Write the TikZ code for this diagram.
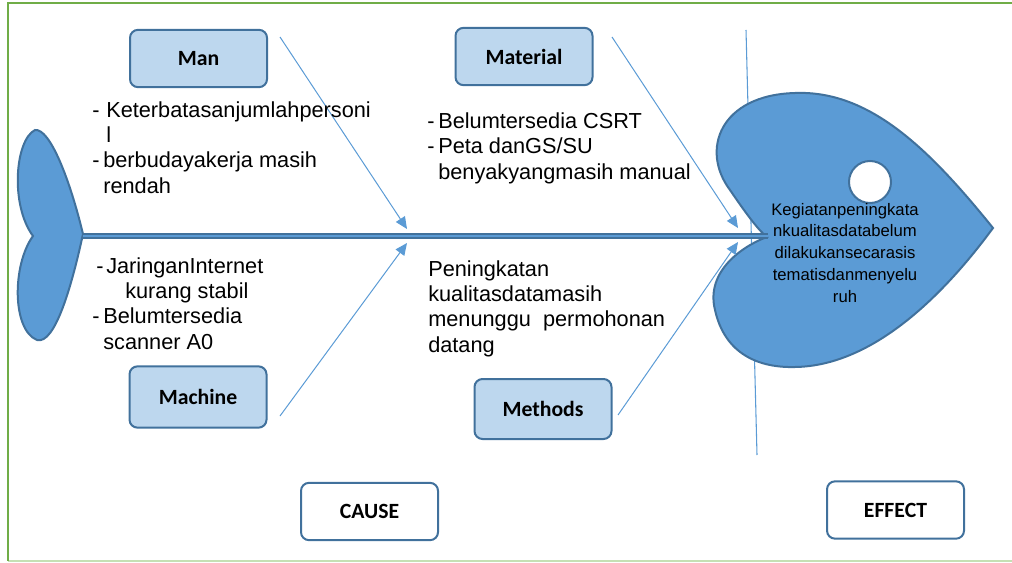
\documentclass[tikz,border=0pt]{standalone}
\usepackage{fontspec}
\setmainfont{Liberation Sans}
\newfontfamily\boxfont{Carlito}
\usetikzlibrary{arrows.meta}
\definecolor{FishClr}{HTML}{5B9BD5}
\definecolor{EdgeClr}{HTML}{41719C}
\definecolor{BoxClr}{HTML}{BDD7EE}
\definecolor{FrameClr}{HTML}{70AD47}
\definecolor{FrameLow}{HTML}{C5E0B4}
\newcommand{\itemdash}[1]{\makebox[#1][l]{-}}

\tikzset{
  catbox/.style={draw=EdgeClr, line width=1.5pt, rounded corners=6pt, fill=BoxClr,
    minimum width=102.75pt, minimum height=43pt, inner sep=0pt, text=black,
    font=\boxfont\bfseries\fontsize{16.3}{19}\selectfont},
  labbox/.style={catbox, fill=white},
  causetxt/.style={anchor=base west, align=left, inner sep=0pt, text=black,
    font=\fontsize{16.3}{19}\selectfont},
  headtxt/.style={anchor=base, align=center, inner sep=0pt, text=black,
    font=\fontsize{12.5}{16.3}\selectfont},
  bone/.style={draw=FishClr, line width=0.75pt, -{Triangle[length=9pt,width=8pt]}},
}

\begin{document}
\begin{tikzpicture}[x=0.75pt,y=-0.75pt]
\useasboundingbox (0,0) rectangle (1012,563);

% frame
\draw[FrameLow,line width=1.5pt] (8,561) -- (1012,561);
\draw[FrameClr,line width=2.2pt] (1012,3) -- (8,3) -- (8,561);

% line behind the head
\draw[FishClr,line width=0.8pt] (746,30) -- (757,455);

% tail
\draw[EdgeClr,fill=FishClr,line width=1.5pt] (35,130)
  .. controls (50,128) and (70,180) .. (83,234)
  .. controls (72,285) and (55,345) .. (37,340)
  .. controls (12,330) and (12,265) .. (33,236)
  .. controls (10,205) and (15,140) .. (35,130) -- cycle;

% head
\draw[EdgeClr,fill=FishClr,line width=1.5pt] (993,228)
  .. controls (930,150) and (870,90) .. (795,93)
  .. controls (720,95) and (700,150) .. (730,190)
  .. controls (745,212) and (758,230) .. (767,237)
  .. controls (745,245) and (705,270) .. (715,310)
  .. controls (725,355) and (760,368) .. (795,367)
  .. controls (870,366) and (940,300) .. (993,228) -- cycle;
\draw[EdgeClr,fill=white,line width=1.5pt] (870,182) circle[radius=15.75pt];

% spine
\coordinate (tail) at (83,236);
\coordinate (head) at (768,236);
\draw[EdgeClr,line width=4pt] (tail) -- (head);
\draw[FishClr,line width=1.8pt] (tail) -- (head);

% categories
\node[catbox] (man) at (198.5,58.5) {Man};
\node[catbox] (material) at (524,56.5) {Material};
\node[catbox,minimum height=46pt] (machine) at (198,397) {Machine};
\node[catbox,minimum height=45pt] (methods) at (543,409) {Methods};

% bones
\coordinate (manA) at (280,37);      \coordinate (manB) at (407,229);
\coordinate (materialA) at (612,37); \coordinate (materialB) at (738,228);
\coordinate (machineA) at (280,416); \coordinate (machineB) at (407,243);
\coordinate (methodsA) at (618,415); \coordinate (methodsB) at (738,242);
\draw[bone] (manA) -- (manB);
\draw[bone] (materialA) -- (materialB);
\draw[bone] (machineA) -- (machineB);
\draw[bone] (methodsA) -- (methodsB);

% causes (base = last line)
\node[causetxt] (mantxt) at (92,193) {\itemdash{10.5pt}Keterbatasanjumlahpersoni\\
  \hspace*{10.5pt}l\\
  \itemdash{8.25pt}berbudayakerja masih\\
  \hspace*{8.25pt}rendah};
\node[causetxt] (machinetxt) at (92,349) {\hspace*{3pt}\itemdash{7.5pt}JaringanInternet\\
  \hspace*{24.75pt}kurang stabil\\
  \itemdash{8.25pt}Belumtersedia\\
  \hspace*{8.25pt}scanner A0};
\node[causetxt] (materialtxt) at (427,179) {\itemdash{8.25pt}Belumtersedia CSRT\\
  \itemdash{8.25pt}Peta danGS/SU\\
  \hspace*{8.25pt}benyakyangmasih manual};
\node[causetxt] (methodstxt) at (428,352) {Peningkatan\\
  kualitasdatamasih\\
  menunggu\ \ permohonan\\
  datang};

% effect
\node[headtxt] (effecttxt) at (845,302) {Kegiatanpeningkata\\nkualitasdatabelum\\
  dilakukansecarasis\\tematisdanmenyelu\\ruh};

\node[labbox] (cause) at (369.5,511.5) {CAUSE};
\node[labbox] (effect) at (895.5,510) {EFFECT};
\end{tikzpicture}
\end{document}
